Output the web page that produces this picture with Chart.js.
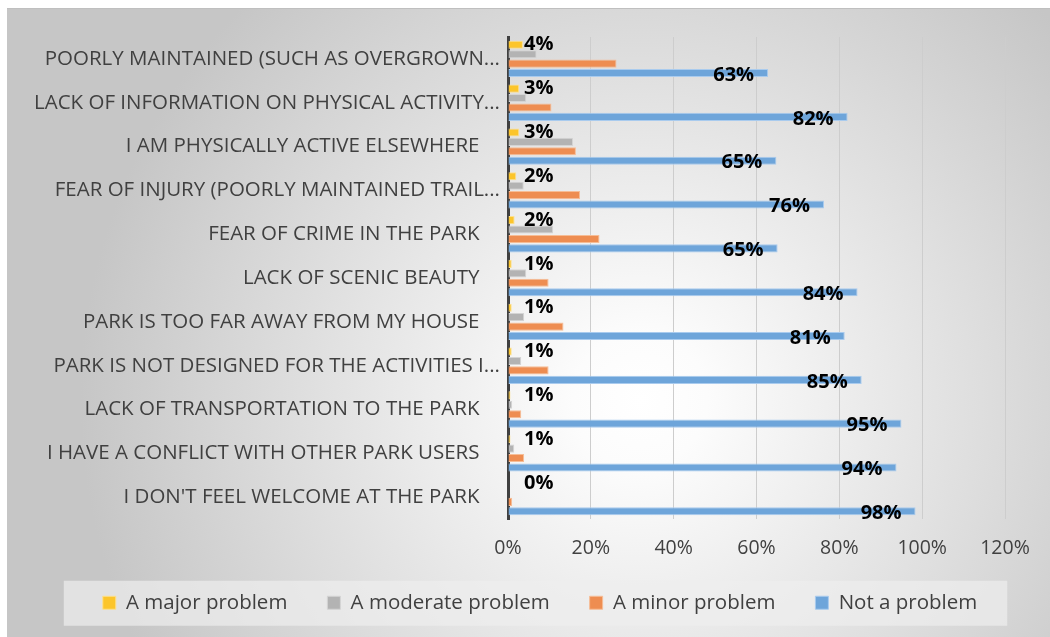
<!DOCTYPE html>
<html>
<head>
<meta charset="utf-8">
<script src="https://cdn.jsdelivr.net/npm/chart.js@4/dist/chart.umd.min.js"></script>
<style>
  html, body { margin: 0; padding: 0; background: #fff; }
  #wrap { width: 1050px; height: 637px; position: relative; }
</style>
</head>
<body>
<div id="wrap"><canvas id="c"></canvas></div>
<script>
// categories, top to bottom (trailing em space mimics the original padding)
var categories = [
  'POORLY MAINTAINED (SUCH AS OVERGROWN...',
  'LACK OF INFORMATION ON PHYSICAL ACTIVITY...',
  'I AM PHYSICALLY ACTIVE ELSEWHERE\u2003',
  'FEAR OF INJURY (POORLY MAINTAINED TRAIL...',
  'FEAR OF CRIME IN THE PARK\u2003',
  'LACK OF SCENIC BEAUTY\u2003',
  'PARK IS TOO FAR AWAY FROM MY HOUSE\u2003',
  'PARK IS NOT DESIGNED FOR THE ACTIVITIES I...',
  'LACK OF TRANSPORTATION TO THE PARK\u2003',
  'I HAVE A CONFLICT WITH OTHER PARK USERS\u2003',
  'I DON\'T FEEL WELCOME AT THE PARK\u2003'
];

var seriesNames = ['A major problem', 'A moderate problem', 'A minor problem', 'Not a problem'];

// percentages
var majorProblem    = [3.6, 2.7, 2.7, 2.0, 1.6, 0.9, 0.9, 0.9, 0.6, 0.6, 0];
var moderateProblem = [6.9, 4.4, 15.7, 3.8, 10.9, 4.4, 3.9, 3.2, 1.0, 1.5, 0];
var minorProblem    = [26.2, 10.5, 16.4, 17.4, 22.1, 9.8, 13.4, 9.8, 3.2, 3.9, 1.0];
var notAProblem     = [62.8, 82.0, 64.8, 76.3, 65.1, 84.4, 81.3, 85.4, 95.0, 93.8, 98.4];

var xTicks = [0, 20, 40, 60, 80, 100, 120];

var fills   = ['#fcc52b', '#b3b3b3', '#ee8d51', '#6ea5da'];
var borders = ['#fde08e', '#d4d4d4', '#f6bd96', '#a9cbee'];

var FONT = '"Open Sans", "Noto Sans", sans-serif';

var bgPlugin = {
  id: 'bg',
  beforeDraw: function(chart) {
    var ctx = chart.ctx;
    ctx.save();
    ctx.fillStyle = '#ffffff';
    ctx.fillRect(0, 0, chart.width, chart.height);
    var g = ctx.createRadialGradient(640, 400, 0, 640, 400, 560);
    g.addColorStop(0, '#ffffff');
    g.addColorStop(0.12, '#fcfcfc');
    g.addColorStop(1, '#c6c6c6');
    ctx.fillStyle = g;
    ctx.fillRect(7, 8, chart.width - 7, chart.height - 8);
    ctx.fillStyle = '#bfbfbf';
    ctx.fillRect(7, 8, chart.width - 7, 1);
    // legend backing box
    var lg = chart.legend;
    if (lg && lg.legendHitBoxes && lg.legendHitBoxes.length) {
      var hb = lg.legendHitBoxes;
      var l = hb[0].left, r = hb[hb.length - 1].left + hb[hb.length - 1].width;
      var cy = hb[0].top + hb[0].height / 2;
      ctx.fillStyle = 'rgba(238,238,238,0.7)';
      ctx.fillRect(l - 39, cy - 22, (r - l) + 69, 45);
    }
    ctx.restore();
  }
};

var legendShift = {
  id: 'legendShift',
  afterLayout: function(chart) {
    chart.legend.left += 34;
    chart.legend.right += 34;
    chart.legend.top -= 26;
    chart.legend.bottom -= 26;
  }
};

var labelPlugin = {
  id: 'valueLabels',
  afterDatasetsDraw: function(chart) {
    var ctx = chart.ctx;
    ctx.save();
    ctx.font = 'bold 20px ' + FONT;
    ctx.fillStyle = '#000';
    ctx.textBaseline = 'middle';
    var x0 = chart.scales.x.getPixelForValue(0);
    chart.getDatasetMeta(0).data.forEach(function(bar, i) {
      ctx.textAlign = 'left';
      ctx.fillText(Math.round(majorProblem[i]) + '%', x0 + 16, bar.y);
    });
    chart.getDatasetMeta(3).data.forEach(function(bar, i) {
      ctx.textAlign = 'right';
      ctx.fillText(Math.round(notAProblem[i]) + '%', bar.x - 14, bar.y + 2);
    });
    ctx.restore();
  }
};

var seriesData = [majorProblem, moderateProblem, minorProblem, notAProblem];

new Chart(document.getElementById('c'), {
  type: 'bar',
  data: {
    labels: categories,
    datasets: seriesNames.map(function(name, i) {
      return {
        label: name,
        data: seriesData[i],
        backgroundColor: fills[i],
        borderColor: borders[i],
        borderWidth: 1,
        barPercentage: 0.86,
        categoryPercentage: 0.86
      };
    })
  },
  options: {
    indexAxis: 'y',
    responsive: true,
    maintainAspectRatio: false,
    animation: false,
    layout: { padding: { left: 7, right: 45, top: 37, bottom: -12 } },
    scales: {
      x: {
        min: 0,
        max: 120,
        afterBuildTicks: function(scale) {
          scale.ticks = xTicks.map(function(v) { return { value: v }; });
        },
        grid: { color: '#cdcdcd', lineWidth: 1, drawTicks: false },
        border: { display: false },
        ticks: {
          padding: 18,
          color: '#404040',
          font: { family: FONT, size: 19.5 },
          callback: function(v) { return v + '%'; }
        }
      },
      y: {
        afterFit: function(scale) { scale.width = 501; },
        grid: { display: false, drawTicks: false },
        border: { display: true, color: '#404040', width: 3 },
        ticks: {
          padding: 8,
          color: '#404040',
          font: { family: FONT, size: 20.5 }
        }
      }
    },
    plugins: {
      legend: {
        position: 'bottom',
        labels: {
          boxWidth: 13,
          boxHeight: 13,
          padding: 40,
          color: '#404040',
          font: { family: FONT, size: 20.5 }
        }
      },
      tooltip: { enabled: false }
    }
  },
  plugins: [bgPlugin, legendShift, labelPlugin]
});
</script>
</body>
</html>
